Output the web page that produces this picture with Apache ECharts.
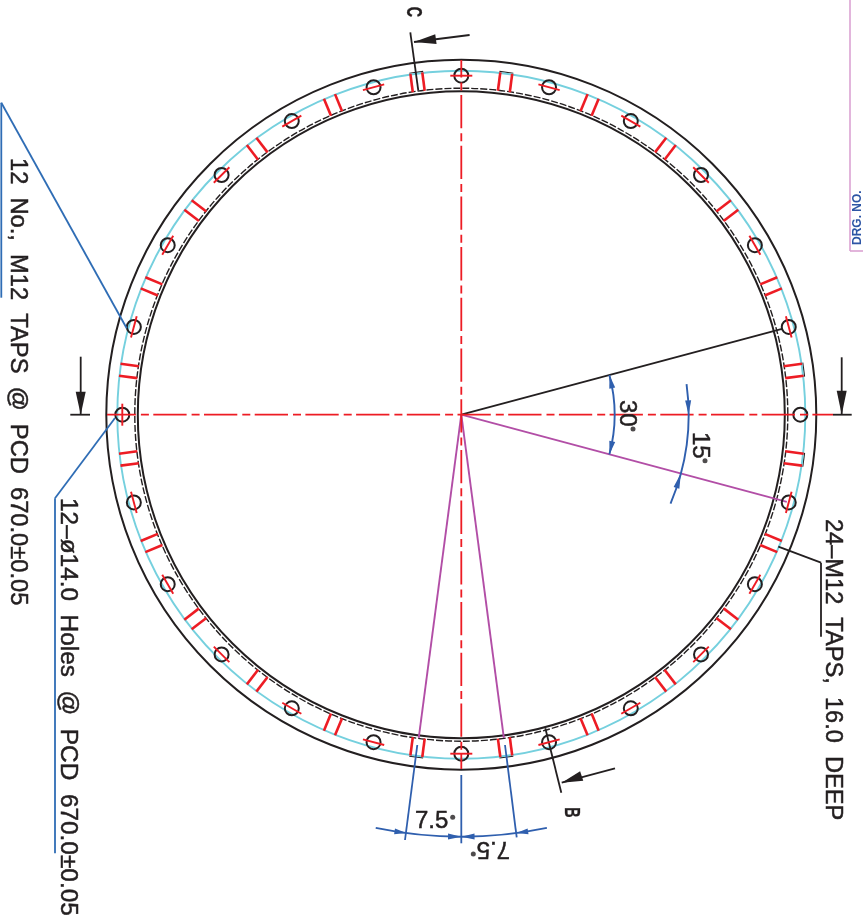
<!DOCTYPE html>
<html><head><meta charset="utf-8">
<style>html,body{margin:0;padding:0;background:#fff}#c{width:863px;height:919px}</style>
<script src="https://cdn.jsdelivr.net/npm/echarts@6/dist/echarts.min.js"></script>
</head><body><div id="c"></div>
<script>
// Drawing values, in drawing units with the flange centre at (0, 0).
const solidRings = [355, 323.5];
const dashedRings = [326.5];
const pcdRing = [344];
const holeRadius = 7;
const holePcd = 339;
const holeAngles = [0,15,30,45,60,75,90,105,120,135,150,165,180,195,210,225,240,255,270,285,300,315,330,345];
const tangentMarkAngles = [15,30,45,60,75,90,105,120,135,150,165,180,195,210,225,240,255,270,285,300,315,330,345];
const tapAngles = [7.5,22.5,37.5,52.5,67.5,82.5,97.5,112.5,127.5,142.5,157.5,172.5,187.5,202.5,217.5,232.5,247.5,262.5,277.5,292.5,307.5,322.5,337.5,352.5];
const tapCapAngles = [7.5,82.5,97.5,262.5,277.5,352.5];
const tapInner = 326, tapOuter = 344.5, tapHalfWidth = 6;

const centreLineH = [[-354.3, 0, 371.7, 0]];
const centreLineV = [[0, 354.7, 0, -354.3]];
const blackRadials = [[15, 332]];
const purpleRadials = [[-15, 337], [262.5, 326], [277.5, 326]];
const sectionLines = [
  [-51, 382.4, -43, 324],
  [84, -313.6, 100, -378],
  [8.3, 379.7, -47.3, 372.7],
  [153.7, -353.6, 100.4, -368],
  [-380.6, 58, -380.6, 0],
  [-391, 0, -371.3, 0],
  [380.4, 57.4, 380.4, 0],
  [371.7, 0, 390.4, 0],
  [317, -132, 359.7, -148],
  [359.7, -148, 359.7, -222]
];
const blueLeaders = [
  [-460, 312, -460, 117],
  [-460, 312, -334.6, 86.4],
  [-406.3, -83.6, -406.3, -438.6],
  [-406.3, -83.6, -346.3, -3.3]
];
const dimExtensions = [
  [-44, -330.3, -56.3, -425.3],
  [43.7, -330.3, 55.4, -422.6],
  [0, -360.3, 0, -428.6]
];
const dimArcs = [[153.3, -15, 15], [227.3, -23, 7.7], [422, 258.3, 281.7]];
const dimArrows = [
  [153.3, 15, 10],[153.3, -15, -10],
  [227.3, 0, 3.6],[227.3, -15, -18.8],
  [422, 262.5, 260.9],[422, 277.5, 279.1],[422, 270, 268.2],[422, 270, 271.8]
];
const blackArrows = [
  [-47.3, 372.7, -25.4, 375.6],
  [100.4, -368, 120.4, -361.3],
  [-380.6, 0, -380.6, 23],
  [380.4, 0, 380.4, 24]
];
const frame = [[388.7, 414.7, 388.7, 163.7], [388.7, 163.7, 401.7, 163.7]];
const degreeDots = [[171.7, -14.3], [243.7, -46], [-8.6, -402.6], [12, -439.3]];
// text, x, y, font size, rotation, reading-direction scale
const notes = [
  ['12  No.,  M12  TAPS  @  PCD  670.0±0.05', -443.8, 256.7, 23.7, -90, 1],
  ['12–ø14.0  Holes  @  PCD  670.0±0.05', -393.8, -83.3, 24.4, -90, 1],
  ['24–M12  TAPS,  16.0  DEEP', 371, -104.3, 23.6, -90, 1],
  ['30', 165.7, 14.7, 24, -90, 1],
  ['15', 238.7, -17.3, 24, -90, 1],
  ['7.5', -46.3, -407.1, 24, 0, 1],
  ['7.5', 48.7, -433.6, 24, 180, 1]
];
const sectionLetters = [
  ['C', -48.3, 408, 22, -90, 0.65],
  ['B', 110, -392.6, 22, -90, 0.65]
];
const drawingNumberLabel = ['DRG. NO.', 395.9, 169.7, 12, 90, 1];

const cx = 461.3, cy = 414.7;
const rad = a => a * Math.PI / 180;
const polar = (r, a) => [r * Math.cos(rad(a)), r * Math.sin(rad(a))];

const BLACK = '#231f20', RED = '#ed1c24', CYAN = '#75d0de', BLUE = '#2f5fae', LEADER = '#2f6db5', PURPLE = '#b24ea6', PINK = '#dba3d3';

function lineSeries(list, color, width, extra) {
  return {
    type: 'custom', silent: true, clip: false, coordinateSystem: 'cartesian2d',
    data: list, encode: {x: [0, 2], y: [1, 3]}, animation: false,
    renderItem: (p, api) => {
      const a = api.coord([api.value(0), api.value(1)]);
      const b = api.coord([api.value(2), api.value(3)]);
      return {type: 'line', shape: {x1: a[0], y1: a[1], x2: b[0], y2: b[1]},
        style: Object.assign({stroke: color, lineWidth: width, fill: null}, extra || {})};
    }
  };
}
function circleSeries(list, color, width, extra) {
  return {
    type: 'custom', silent: true, clip: false, coordinateSystem: 'cartesian2d',
    data: list, encode: {x: 0, y: 1}, animation: false,
    renderItem: (p, api) => {
      const c = api.coord([api.value(0), api.value(1)]);
      const r = api.size([api.value(2), 0])[0];
      return {type: 'circle', shape: {cx: c[0], cy: c[1], r: r},
        style: Object.assign({stroke: color, lineWidth: width, fill: null}, extra || {})};
    }
  };
}
function arcSeries(list, color, width) {
  return {
    type: 'custom', silent: true, clip: false, coordinateSystem: 'cartesian2d',
    data: list, animation: false, encode: {x: 0, y: 1},
    renderItem: (p, api) => {
      const c = api.coord([0, 0]);
      const r = api.size([api.value(0), 0])[0];
      return {type: 'arc', shape: {cx: c[0], cy: c[1], r: r,
          startAngle: -rad(api.value(2)), endAngle: -rad(api.value(1)), clockwise: true},
        style: {stroke: color, lineWidth: width, fill: null}};
    }
  };
}
function arrowSeries(list, color, halfWidth) {
  return {
    type: 'custom', silent: true, clip: false, coordinateSystem: 'cartesian2d',
    data: list, encode: {x: [0, 2], y: [1, 3]}, animation: false,
    renderItem: (p, api) => {
      const t = api.coord([api.value(0), api.value(1)]);
      const b = api.coord([api.value(2), api.value(3)]);
      const dx = b[0] - t[0], dy = b[1] - t[1], l = Math.hypot(dx, dy) || 1;
      const nx = -dy / l * halfWidth, ny = dx / l * halfWidth;
      return {type: 'polygon', shape: {points: [t, [b[0] + nx, b[1] + ny], [b[0] - nx, b[1] - ny]]},
        style: {fill: color}};
    }
  };
}
function textSeries(list, color, weight, strokeWidth) {
  return {
    type: 'custom', silent: true, clip: false, coordinateSystem: 'cartesian2d',
    data: list.map(n => [n[1], n[2]]), encode: {x: 0, y: 1}, animation: false,
    renderItem: (p, api) => {
      const n = list[p.dataIndex];
      const c = api.coord([n[1], n[2]]);
      return {type: 'text', x: c[0], y: c[1], rotation: rad(n[4]), scaleX: n[5],
        style: {text: n[0], fill: color, stroke: color, lineWidth: strokeWidth, align: 'left', verticalAlign: 'middle',
          font: (weight || 'normal') + ' ' + n[3] + 'px "Liberation Sans", Arial, sans-serif'}};
    }
  };
}

const tapLines = [];
tapAngles.forEach(a => {
  const u = polar(1, a), v = [-u[1], u[0]];
  [-tapHalfWidth, tapHalfWidth].forEach(o => tapLines.push([
    u[0] * tapInner + v[0] * o, u[1] * tapInner + v[1] * o,
    u[0] * tapOuter + v[0] * o, u[1] * tapOuter + v[1] * o]));
});
const tapCaps = tapCapAngles.map(a => {
  const u = polar(tapOuter + 0.8, a), v = polar(tapHalfWidth + 1, a + 90);
  return [u[0] - v[0], u[1] - v[1], u[0] + v[0], u[1] + v[1]];
});
const tangentLines = tangentMarkAngles.map(a => {
  const c = polar(holePcd, a), v = polar(11, a + 90);
  return [c[0] - v[0], c[1] - v[1], c[0] + v[0], c[1] + v[1]];
});
const holes = holeAngles.map(a => polar(holePcd, a).concat(holeRadius));
const radialBlack = blackRadials.map(d => [0, 0].concat(polar(d[1], d[0])));
const radialPurple = purpleRadials.map(d => [0, 0].concat(polar(d[1], d[0])));
const arcArrows = dimArrows.map(d => polar(d[0], d[1]).concat(polar(d[0], d[2])));
const ringItems = r => r.map(v => [0, 0, v]);
const dash = [33.3, 5, 8, 4.4];

const chart = echarts.init(document.getElementById('c'), null, {width: 863, height: 919});
chart.setOption({
  animation: false,
  backgroundColor: '#fff',
  grid: {left: 0, right: 0, top: 0, bottom: 0, containLabel: false},
  xAxis: {type: 'value', min: -cx, max: 863 - cx, show: false},
  yAxis: {type: 'value', min: cy - 919, max: cy, show: false},
  series: [
    circleSeries(ringItems(solidRings), BLACK, 2),
    circleSeries(ringItems(dashedRings), BLACK, 1.4, {lineDash: [7, 2]}),
    lineSeries(tapCaps, BLACK, 1.2),
    circleSeries(ringItems(pcdRing), CYAN, 1.9),
    lineSeries(tapLines, RED, 2.6),
    lineSeries(sectionLines, BLACK, 1.8),
    lineSeries(radialBlack, BLACK, 1.8),
    lineSeries(radialPurple, PURPLE, 1.9),
    circleSeries(holes, BLACK, 2),
    lineSeries(tangentLines, RED, 1.9),
    lineSeries(centreLineH, RED, 1.8, {lineDash: dash, lineDashOffset: 4.4}),
    lineSeries(centreLineV, RED, 1.8, {lineDash: dash, lineDashOffset: 15.7}),
    lineSeries(blueLeaders, LEADER, 1.8),
    lineSeries(dimExtensions, BLUE, 1.8),
    arcSeries(dimArcs, BLUE, 1.9),
    arrowSeries(arcArrows, BLUE, 3),
    arrowSeries(blackArrows, BLACK, 5),
    lineSeries(frame, PINK, 1.6),
    {type: 'scatter', silent: true, symbol: 'circle', symbolSize: 5, data: degreeDots, itemStyle: {color: BLACK}, animation: false},
    textSeries(notes, BLACK, 'normal', 0.5),
    textSeries(sectionLetters, BLACK, 'bold', 0.3),
    textSeries([drawingNumberLabel], '#2d55a5', 'bold', 0)
  ]
});
</script></body></html>
